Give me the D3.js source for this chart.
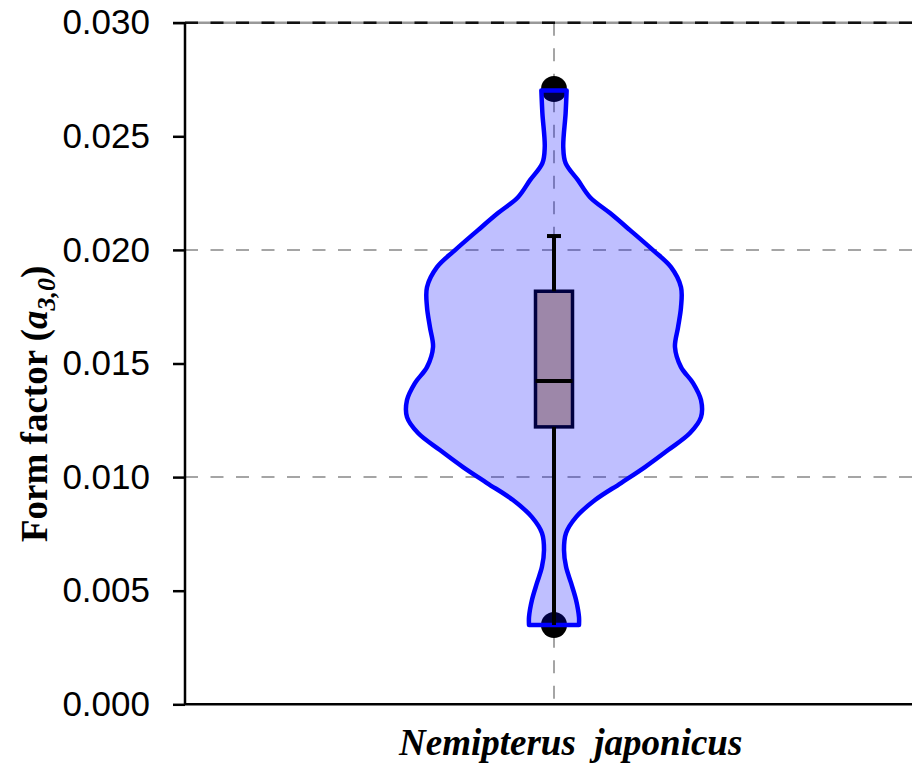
<!DOCTYPE html>
<html>
<head>
<meta charset="utf-8">
<script src="https://cdn.jsdelivr.net/npm/d3@7"></script>
<style>
  body { margin: 0; background: #fff; }
  .tick-label { font-family: "Liberation Sans", Arial, sans-serif; font-size: 35px; fill: #000; }
  .axis-title { font-family: "Liberation Serif", "Times New Roman", serif; font-weight: bold; fill: #000; }
</style>
</head>
<body>
<div id="chart"></div>
<script>
// Category and summary statistics
const categories = ["Nemipterus japonicus"];
const boxQ1 = [0.01221];
const boxMedian = [0.01423];
const boxQ3 = [0.01818];
const whiskerLow = [0.00349];
const whiskerHigh = [0.02061];
const extremes = [0.02708, 0.00349];

// Violin outline: form factor value and relative density (max = 100)
const densityValues = [0.02702, 0.02601, 0.02452, 0.02382, 0.02307, 0.02232, 0.02162, 0.02087,
    0.01999, 0.01924, 0.01836, 0.01748, 0.01660, 0.01572, 0.01484, 0.01414, 0.01339, 0.01264,
    0.01194, 0.01119, 0.01044, 0.00974, 0.00899, 0.00824, 0.00754, 0.00679, 0.00605, 0.00534,
    0.00459, 0.00384, 0.00349];
const densityRel = [8.6, 7.9, 6.3, 7.9, 16.3, 24.5, 38.1, 51.7,
    67.3, 79.6, 86.4, 86.4, 84.4, 82.3, 86.4, 94.6, 100, 100,
    92.5, 77.6, 61.9, 45.6, 27.9, 15, 8.2, 6.8, 8.2, 11.6,
    15, 17, 17];

const yTicks = [0, 0.005, 0.010, 0.015, 0.020, 0.025, 0.030];
const gridTicks = [0.010, 0.020];

function drawChart() {
    const width = 912;
    const height = 774;
    const margin = { top: 22.7, right: -11, bottom: 69.7, left: 185 };

    const svg = d3.select("#chart")
        .append("svg")
        .attr("width", width)
        .attr("height", height);

    const y = d3.scaleLinear()
        .domain([0, 0.030])
        .range([height - margin.bottom, margin.top]);

    const x = d3.scalePoint()
        .domain(categories)
        .range([margin.left, width - margin.right])
        .padding(0.5);

    const halfWidth = d3.scaleLinear()
        .domain([0, 100])
        .range([0, 147]);

    const cx = x(categories[0]);

    // Grid lines
    svg.selectAll("line.hgrid")
        .data(gridTicks)
        .enter()
        .append("line")
        .attr("class", "hgrid")
        .attr("x1", margin.left)
        .attr("x2", width)
        .attr("y1", d => y(d))
        .attr("y2", d => y(d))
        .attr("stroke", "#888")
        .attr("stroke-width", 1.5)
        .attr("stroke-dasharray", "13,12.5");

    svg.append("line")
        .attr("x1", cx).attr("x2", cx)
        .attr("y1", y(0.030)).attr("y2", y(0))
        .attr("stroke", "#888")
        .attr("stroke-width", 1.5)
        .attr("stroke-dasharray", "13,12.5");

    // Top border with dashed grid line on it
    svg.append("line")
        .attr("x1", margin.left - 12).attr("x2", width)
        .attr("y1", y(0.030)).attr("y2", y(0.030))
        .attr("stroke", "#999")
        .attr("stroke-width", 2.5);
    svg.append("line")
        .attr("x1", margin.left).attr("x2", width)
        .attr("y1", y(0.030)).attr("y2", y(0.030))
        .attr("stroke", "#111")
        .attr("stroke-width", 2.5)
        .attr("stroke-dasharray", "13,12.5");

    // Min / max points (drawn under the violin)
    svg.selectAll("circle.extreme")
        .data(extremes)
        .enter()
        .append("circle")
        .attr("class", "extreme")
        .attr("cx", cx)
        .attr("cy", d => y(d))
        .attr("r", 13)
        .attr("fill", "#000");

    // Box (under the violin)
    const boxW = 37;
    svg.append("rect")
        .attr("x", cx - boxW / 2)
        .attr("y", y(boxQ3[0]))
        .attr("width", boxW)
        .attr("height", y(boxQ1[0]) - y(boxQ3[0]))
        .attr("fill", "tan")
        .attr("stroke", "#000")
        .attr("stroke-width", 3.5);

    // Violin
    const violinData = densityValues.map((v, i) => ({ v: v, d: densityRel[i] }));
    const area = d3.area()
        .curve(d3.curveCatmullRom)
        .y(d => y(d.v))
        .x0(d => cx - halfWidth(d.d))
        .x1(d => cx + halfWidth(d.d));

    svg.append("path")
        .datum(violinData)
        .attr("d", area)
        .attr("fill", "rgba(0, 0, 255, 0.25)")
        .attr("stroke", "#0000ff")
        .attr("stroke-width", 4.5)
        .attr("stroke-linejoin", "round");

    // Whiskers and median on top
    svg.append("line")
        .attr("x1", cx).attr("x2", cx)
        .attr("y1", y(boxQ3[0])).attr("y2", y(whiskerHigh[0]))
        .attr("stroke", "#000").attr("stroke-width", 4);
    svg.append("line")
        .attr("x1", cx).attr("x2", cx)
        .attr("y1", y(boxQ1[0])).attr("y2", y(whiskerLow[0]))
        .attr("stroke", "#000").attr("stroke-width", 4);
    svg.append("line")
        .attr("x1", cx - 7).attr("x2", cx + 7)
        .attr("y1", y(whiskerHigh[0])).attr("y2", y(whiskerHigh[0]))
        .attr("stroke", "#000").attr("stroke-width", 4);
    svg.append("line")
        .attr("x1", cx - boxW / 2).attr("x2", cx + boxW / 2)
        .attr("y1", y(boxMedian[0])).attr("y2", y(boxMedian[0]))
        .attr("stroke", "#000").attr("stroke-width", 4);

    // Y axis
    const yAxis = svg.append("g")
        .attr("transform", `translate(${margin.left}, 0)`)
        .call(d3.axisLeft(y)
            .tickValues(yTicks)
            .tickFormat(d3.format(".3f"))
            .tickSize(12)
            .tickPadding(23)
        );
    yAxis.select(".domain").attr("stroke-width", 2.5).attr("d", `M0,${y(0)}V${y(0.030)}`);
    yAxis.selectAll(".tick line").attr("stroke-width", 2.5);
    yAxis.selectAll(".tick text").attr("class", "tick-label");
    yAxis.attr("font-size", null).attr("font-family", null);

    // X axis line
    svg.append("line")
        .attr("x1", margin.left - 1).attr("x2", width)
        .attr("y1", y(0)).attr("y2", y(0))
        .attr("stroke", "#000")
        .attr("stroke-width", 2.5);

    // X axis label
    svg.append("text")
        .attr("class", "axis-title")
        .attr("x", 399)
        .attr("y", 755)
        .attr("font-size", 37)
        .attr("font-style", "italic")
        .style("white-space", "pre")
        .text("Nemipterus  japonicus");

    // Y axis label
    const yLabel = svg.append("text")
        .attr("class", "axis-title")
        .attr("transform", "translate(47, 542) rotate(-90)")
        .attr("font-size", 37);
    yLabel.append("tspan").text("Form factor (");
    yLabel.append("tspan").attr("font-style", "italic").text("a");
    yLabel.append("tspan").attr("font-style", "italic").attr("font-size", 26).attr("dy", 8).text("3,0");
    yLabel.append("tspan").attr("dy", -8).text(")");
}

drawChart();
</script>
</body>
</html>
